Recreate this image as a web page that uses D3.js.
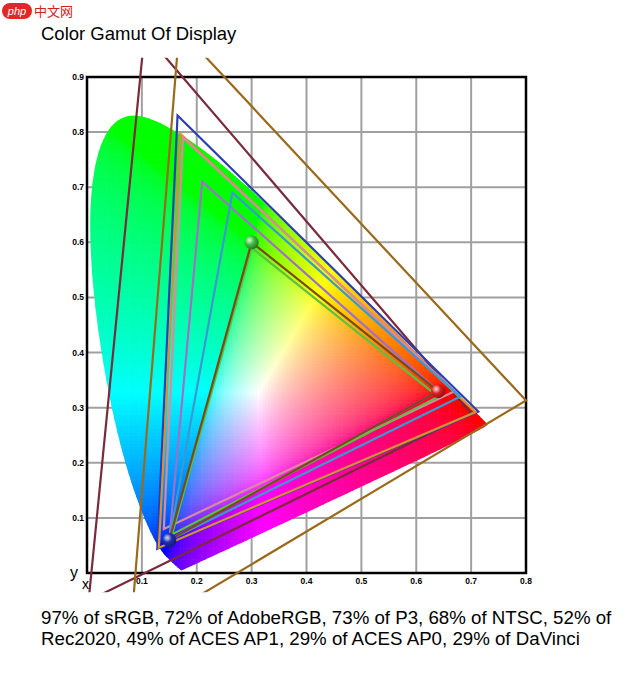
<!DOCTYPE html>
<html>
<head>
<meta charset="utf-8">
<script src="https://cdn.jsdelivr.net/npm/d3@7"></script>
<style>
  body { margin: 0; background: #fff; font-family: "Liberation Sans", Arial, sans-serif; }
</style>
</head>
<body>
<svg id="chart" width="635" height="695"></svg>
<script>
// spectral locus, CIE 1931 xy
const locus = [
  [0.1741,0.0050],[0.1733,0.0048],[0.1714,0.0051],[0.1689,0.0069],[0.1644,0.0109],
  [0.1566,0.0177],[0.1440,0.0297],[0.1355,0.0399],[0.1241,0.0578],[0.1096,0.0868],
  [0.0913,0.1327],[0.0687,0.2007],[0.0454,0.2950],[0.0235,0.4127],[0.0082,0.5384],
  [0.0039,0.6548],[0.0139,0.7502],[0.0389,0.8120],[0.0743,0.8338],[0.1142,0.8262],
  [0.1547,0.8059],[0.1929,0.7816],[0.2296,0.7543],[0.2658,0.7243],[0.3016,0.6923],
  [0.3373,0.6589],[0.3731,0.6245],[0.4441,0.5547],[0.5125,0.4866],[0.5752,0.4242],
  [0.6270,0.3725],[0.6658,0.3340],[0.6915,0.3083],[0.7079,0.2920],[0.7190,0.2809],
  [0.7300,0.2700],[0.7347,0.2653]
];

// gamut triangles [R, G, B]
const gamutNames = ["ACES AP0", "DaVinci", "ACES AP1", "Rec2020", "NTSC", "AdobeRGB", "P3", "sRGB inner", "sRGB"];
const gamutPoints = [
  [[0.70,0.29],[0.105,0.98],[0.003,-0.05]],
  [[0.80,0.313],[0.1682,0.9877],[0.079,-0.1155]],
  [[0.713,0.293],[0.165,0.830],[0.128,0.044]],
  [[0.708,0.292],[0.170,0.797],[0.131,0.046]],
  [[0.67,0.33],[0.175,0.79],[0.14,0.08]],
  [[0.64,0.33],[0.21,0.71],[0.15,0.06]],
  [[0.68,0.32],[0.265,0.69],[0.15,0.06]],
  [[0.64,0.32],[0.30,0.59],[0.155,0.07]],
  [[0.64,0.33],[0.30,0.60],[0.15,0.06]]
];
const gamutColors = ["#7a2a3a", "#9a6a1a", "#2b3fb0", "#d89030", "#d88aa0", "#a070c8", "#3a9ad0", "#5cc040", "#7a4a1a"];

const xTicks = [0.1, 0.2, 0.3, 0.4, 0.5, 0.6, 0.7, 0.8];
const yTicks = [0.1, 0.2, 0.3, 0.4, 0.5, 0.6, 0.7, 0.8, 0.9];
const primaries = [[0.64,0.33],[0.30,0.60],[0.15,0.06]];
const primaryColors = ["#e02020", "#40c040", "#2030b0"];

const svg = d3.select("#chart");
const x = d3.scaleLinear().domain([0, 0.8]).range([87, 526]);
const y = d3.scaleLinear().domain([0, 0.9]).range([573, 77]);

// watermark
svg.append("rect").attr("x", 2).attr("y", 3).attr("width", 30).attr("height", 16).attr("rx", 8).attr("fill", "#e02828");
svg.append("text").attr("x", 17).attr("y", 15).attr("text-anchor", "middle").attr("fill", "#fff")
  .style("font-size", "11px").style("font-style", "italic").text("php");
svg.append("text").attr("x", 34).attr("y", 16).attr("fill", "#d02020")
  .style("font-family", "Noto Sans CJK SC").style("font-size", "13px").text("中文网");

svg.append("text").attr("x", 41).attr("y", 40).style("font-size", "18.5px").text("Color Gamut Of Display");

// grid
svg.append("g").selectAll("line").data(xTicks).enter().append("line")
  .attr("x1", d => x(d)).attr("x2", d => x(d)).attr("y1", y(0)).attr("y2", y(0.9))
  .attr("stroke", "#a0a0a0").attr("stroke-width", 2);
svg.append("g").selectAll("line").data(yTicks).enter().append("line")
  .attr("y1", d => y(d)).attr("y2", d => y(d)).attr("x1", x(0)).attr("x2", x(0.8))
  .attr("stroke", "#a0a0a0").attr("stroke-width", 2);
svg.append("rect").attr("x", x(0)).attr("y", y(0.9)).attr("width", x(0.8) - x(0)).attr("height", y(0) - y(0.9))
  .attr("fill", "none").attr("stroke", "#000").attr("stroke-width", 2.5);

// chromaticity fill
const line = d3.line().x(d => x(d[0])).y(d => y(d[1]));
const smooth = d3.line().x(d => x(d[0])).y(d => y(d[1])).curve(d3.curveBasisClosed);
const defs = svg.append("defs");
defs.append("clipPath").attr("id", "locusClip").append("path").attr("d", smooth(locus));

function xyToRgb(cx, cy) {
  const Y = 1, X = cx / cy, Z = (1 - cx - cy) / cy;
  let r = 3.2406 * X - 1.5372 * Y - 0.4986 * Z;
  let g = -0.9689 * X + 1.8758 * Y + 0.0415 * Z;
  let b = 0.0557 * X - 0.2040 * Y + 1.0570 * Z;
  r = Math.max(r, 0); g = Math.max(g, 0); b = Math.max(b, 0);
  const mx = Math.max(r, g, b);
  const gam = v => { v = v / mx; return Math.round(255 * (v <= 0.0031308 ? 12.92 * v : 1.055 * Math.pow(v, 1 / 2.4) - 0.055)); };
  return `rgb(${gam(r)},${gam(g)},${gam(b)})`;
}
const step = 0.005;
const cells = [];
d3.range(0, 0.75, step).forEach(cx => d3.range(0.0, 0.84, step).forEach(cy => cells.push([cx, cy])));
svg.append("g").attr("clip-path", "url(#locusClip)").selectAll("rect").data(cells).enter().append("rect")
  .attr("x", d => x(d[0])).attr("y", d => y(d[1] + step))
  .attr("width", x(step) - x(0) + 0.6).attr("height", y(0) - y(step) + 0.6)
  .attr("fill", d => xyToRgb(d[0] + step / 2, Math.max(d[1] + step / 2, 0.01)));

// gamut triangles
defs.append("clipPath").attr("id", "plotClip").append("rect")
  .attr("x", x(-0.02)).attr("y", y(0.935)).attr("width", x(0.85) - x(-0.02)).attr("height", y(-0.035) - y(0.935));
svg.append("g").attr("clip-path", "url(#plotClip)").selectAll("path").data(gamutPoints).enter().append("path")
  .attr("d", d => line(d) + "Z").attr("fill", "none")
  .attr("stroke", (d, i) => gamutColors[i]).attr("stroke-width", 2.2).attr("stroke-linejoin", "miter");

// primaries spheres
primaryColors.forEach((c, i) => {
  const gr = defs.append("radialGradient").attr("id", "sph" + i).attr("cx", "35%").attr("cy", "35%").attr("r", "70%");
  gr.append("stop").attr("offset", "0%").attr("stop-color", "#fff").attr("stop-opacity", 0.8);
  gr.append("stop").attr("offset", "45%").attr("stop-color", c);
  gr.append("stop").attr("offset", "100%").attr("stop-color", d3.color(c).darker(1.5));
});
svg.append("g").selectAll("circle").data(primaries).enter().append("circle")
  .attr("cx", d => x(d[0])).attr("cy", d => y(d[1])).attr("r", 7)
  .attr("fill", (d, i) => `url(#sph${i})`);

// tick labels
svg.append("g").selectAll("text").data(xTicks).enter().append("text")
  .attr("x", d => x(d)).attr("y", y(0) + 11).attr("text-anchor", "middle")
  .style("font-size", "8.5px").style("font-weight", "bold").text(d => d.toFixed(1));
svg.append("g").selectAll("text").data(yTicks).enter().append("text")
  .attr("x", x(0) - 3).attr("y", d => y(d) + 3).attr("text-anchor", "end")
  .style("font-size", "8.5px").style("font-weight", "bold").text(d => d.toFixed(1));
svg.append("text").attr("x", 70).attr("y", 578).style("font-size", "16px").text("y");
svg.append("text").attr("x", 82).attr("y", 589).style("font-size", "14px").text("x");

// caption
svg.append("text").attr("x", 41).attr("y", 624).style("font-size", "18.7px")
  .text("97% of sRGB, 72% of AdobeRGB, 73% of P3, 68% of NTSC, 52% of");
svg.append("text").attr("x", 41).attr("y", 645).style("font-size", "18.7px")
  .text("Rec2020, 49% of ACES AP1, 29% of ACES AP0, 29% of DaVinci");
</script>
</body>
</html>
